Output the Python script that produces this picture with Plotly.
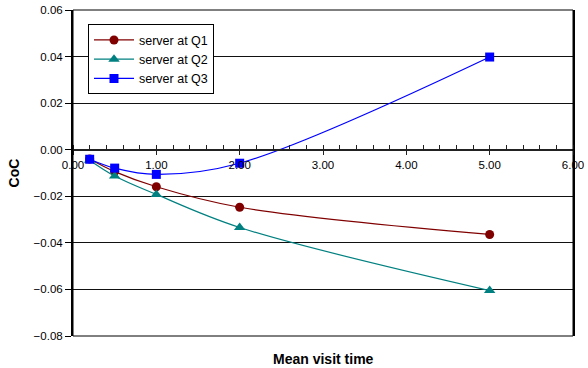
import plotly.graph_objects as go

x_vals = [0.2, 0.5, 1.0, 2.0, 5.0]
q1 = [-0.0040, -0.0094, -0.0159, -0.0247, -0.0364]
q2 = [-0.0045, -0.0113, -0.0192, -0.0334, -0.0605]
q3 = [-0.0041, -0.0079, -0.0106, -0.0058, 0.0398]
series_names = ["server at Q1", "server at Q2", "server at Q3"]
x_ticks = [0, 1, 2, 3, 4, 5, 6]
y_ticks = [-0.08, -0.06, -0.04, -0.02, 0.0, 0.02, 0.04, 0.06]

FONT = "Liberation Sans, Arial, sans-serif"
fig = go.Figure()
styles = [
    ("#800000", "circle", 9),
    ("#008080", "triangle-up", 10),
    ("#0000FF", "square", 9),
]
for name, ys, (col, sym, sz) in zip(series_names, [q1, q2, q3], styles):
    fig.add_trace(go.Scatter(
        x=x_vals, y=ys, name=name, mode="lines+markers",
        line=dict(color=col, width=1.2, shape="spline", smoothing=1.0),
        marker=dict(color=col, symbol=sym, size=sz),
    ))
# invisible trace for the overlay axis (upward halves of major ticks)
fig.add_trace(go.Scatter(x=[], y=[], xaxis="x2", showlegend=False, hoverinfo="skip"))

ymin, ymax = -0.08, 0.06
zero_pos = (0 - ymin) / (ymax - ymin)

fig.update_layout(
    width=588, height=368,
    margin=dict(l=73, r=15, t=10, b=32, autoexpand=False),
    paper_bgcolor="white", plot_bgcolor="white",
    font=dict(family=FONT, size=11, color="black"),
    showlegend=True,
    legend=dict(
        x=0.03, y=0.956, xanchor="left", yanchor="top",
        bgcolor="white", bordercolor="black", borderwidth=1,
        font=dict(family=FONT, size=12.5, color="black"),
        itemwidth=40, entrywidth=128, entrywidthmode="pixels",
        tracegroupgap=0,
    ),
    xaxis=dict(
        range=[0, 6], tickvals=x_ticks, tickformat=".2f",
        anchor="free", position=zero_pos, automargin=False,
        showline=True, linecolor="#222", linewidth=1.5,
        ticks="outside", ticklen=5, tickcolor="#222", tickwidth=1,
        showgrid=False, zeroline=False,
        minor=dict(dtick=0.2, ticks="inside", ticklen=4, tickcolor="#222", showgrid=False),
        tickfont=dict(size=11.5),
        title=None,
    ),
    xaxis2=dict(
        range=[0, 6], tickvals=x_ticks, overlaying="x",
        anchor="free", position=zero_pos, automargin=False,
        showline=False, ticks="inside", ticklen=4, tickcolor="#222", tickwidth=1,
        showticklabels=False, showgrid=False, zeroline=False,
    ),
    yaxis=dict(
        range=[ymin, ymax], tickvals=y_ticks, tickformat=".2f",
        automargin=False,
        showline=True, linecolor="black", linewidth=2, mirror=True,
        ticks="outside", ticklen=6, tickcolor="black",
        showgrid=True, gridcolor="#111", gridwidth=1,
        zeroline=False,
        tickfont=dict(size=11.5),
        title=dict(text="<b>CoC</b>", font=dict(size=14), standoff=11),
    ),
    shapes=[dict(type="rect", xref="paper", yref="paper", x0=0, x1=1, y0=0, y1=1,
                 line=dict(color="black", width=1), layer="above")],
    annotations=[dict(text="<b>Mean visit time</b>", xref="paper", yref="paper",
                      x=0.5, y=0, yshift=-13, yanchor="top", showarrow=False,
                      font=dict(size=14, family=FONT))],
)

fig.write_html("out.html")
